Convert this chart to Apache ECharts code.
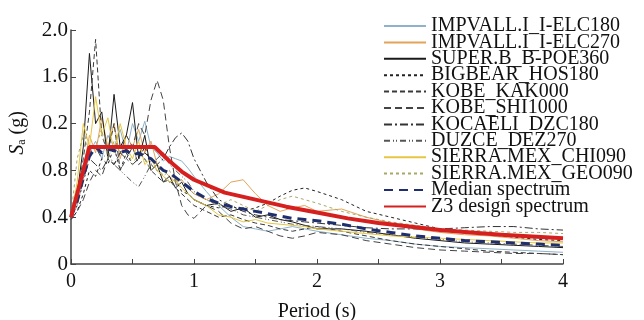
<!DOCTYPE html>
<html><head><meta charset="utf-8">
<script src="https://cdn.jsdelivr.net/npm/echarts@6/dist/echarts.min.js"></script>
<style>html,body{margin:0;padding:0;background:#fff}#c{width:644px;height:320px}</style>
</head><body><div id="c"></div>
<script>
const periods = [0,0.05,0.1,0.15,0.2,0.25,0.3,0.35,0.4,0.45,0.5,0.55,0.6,0.65,0.7,0.75,0.8,0.85,0.9,0.95,1.0,1.1,1.2,1.3,1.4,1.5,1.6,1.7,1.8,1.9,2.0,2.2,2.4,2.6,2.8,3.0,3.2,3.4,3.6,3.8,4.0];
const elc180 = [0.38,0.5,0.72,0.95,1.05,0.9,1.1,1.0,1.15,0.95,1.2,1.05,1.22,1.0,0.95,0.88,0.92,0.9,0.88,0.82,0.75,0.62,0.5,0.4,0.32,0.3,0.28,0.3,0.32,0.3,0.28,0.25,0.22,0.2,0.17,0.15,0.14,0.13,0.12,0.11,0.1];
const elc270 = [0.4,0.55,0.8,1.1,0.95,1.25,1.0,1.2,0.9,1.1,1.0,1.15,0.95,1.05,0.85,0.8,0.75,0.7,0.72,0.65,0.6,0.55,0.6,0.7,0.72,0.6,0.5,0.45,0.48,0.5,0.45,0.47,0.4,0.35,0.3,0.27,0.25,0.24,0.22,0.2,0.19];
const poe360 = [0.4,0.6,1.0,1.8,1.2,1.3,0.9,1.45,1.0,1.1,1.38,0.9,1.1,0.8,0.85,0.7,0.75,0.65,0.7,0.6,0.55,0.5,0.52,0.45,0.48,0.4,0.42,0.38,0.36,0.33,0.3,0.3,0.28,0.25,0.22,0.2,0.18,0.17,0.16,0.15,0.14];
const hos180 = [0.38,0.45,0.6,0.8,0.75,0.9,0.85,1.0,0.8,0.95,0.85,0.9,1.0,0.85,0.8,0.75,0.7,0.72,0.62,0.6,0.55,0.5,0.48,0.5,0.45,0.48,0.52,0.58,0.63,0.65,0.62,0.55,0.45,0.4,0.35,0.3,0.27,0.25,0.23,0.21,0.2];
const kak000 = [0.4,0.6,0.9,1.3,1.92,1.1,0.95,1.2,0.8,0.9,1.0,0.85,0.9,0.8,0.75,0.7,0.72,0.65,0.6,0.55,0.5,0.45,0.4,0.42,0.38,0.35,0.33,0.3,0.28,0.3,0.32,0.28,0.24,0.2,0.17,0.15,0.13,0.11,0.1,0.09,0.08];
const shi1000 = [0.38,0.45,0.55,0.7,0.8,0.75,0.9,0.85,0.95,1.1,1.0,1.2,1.1,1.4,1.57,1.4,1.0,0.7,0.5,0.42,0.39,0.5,0.45,0.35,0.3,0.32,0.28,0.24,0.22,0.24,0.27,0.25,0.2,0.17,0.14,0.12,0.11,0.1,0.09,0.09,0.08];
const dzc180 = [0.4,0.5,0.7,0.9,0.85,0.8,0.9,0.85,0.95,0.9,0.85,0.9,0.95,0.9,0.85,0.9,1.0,1.08,1.12,1.05,0.9,0.7,0.55,0.5,0.45,0.42,0.4,0.38,0.37,0.36,0.35,0.33,0.31,0.3,0.3,0.3,0.31,0.32,0.32,0.3,0.29];
const dez270 = [0.4,0.55,0.75,0.95,1.0,0.9,0.95,0.85,0.8,0.75,0.7,0.66,0.75,0.85,0.9,0.95,0.85,0.8,0.75,0.7,0.62,0.55,0.5,0.47,0.42,0.4,0.38,0.36,0.34,0.33,0.32,0.3,0.27,0.25,0.23,0.21,0.19,0.18,0.17,0.16,0.15];
const chi090 = [0.4,0.7,1.2,1.0,1.43,1.1,1.25,0.95,1.2,1.0,0.9,1.05,0.85,0.9,0.8,0.75,0.7,0.72,0.65,0.6,0.55,0.5,0.42,0.4,0.36,0.38,0.35,0.34,0.33,0.32,0.3,0.28,0.26,0.24,0.23,0.22,0.21,0.2,0.19,0.18,0.18];
const geo090 = [0.4,0.9,1.1,0.95,1.0,1.15,0.9,1.05,0.95,1.0,0.85,0.95,0.9,0.8,0.85,0.75,0.8,0.7,0.72,0.65,0.6,0.55,0.5,0.55,0.5,0.45,0.5,0.55,0.58,0.55,0.52,0.45,0.4,0.36,0.33,0.3,0.29,0.28,0.27,0.27,0.26];
const median = [0.4,0.55,0.75,0.92,1.0,0.95,0.98,0.97,0.95,0.97,0.93,0.95,0.92,0.9,0.85,0.8,0.78,0.74,0.7,0.66,0.62,0.56,0.52,0.49,0.47,0.45,0.43,0.41,0.39,0.38,0.37,0.34,0.3,0.27,0.24,0.22,0.2,0.19,0.18,0.17,0.16];
const designT = [0,0.15,0.68,0.8,0.9,1.0,1.25,1.5,1.75,2.0,2.25,2.5,2.75,3.0,3.25,3.5,3.75,4.0];
const designSa = [0.4,1.0,1.0,0.88,0.79,0.72,0.61,0.55,0.49,0.44,0.39,0.35,0.32,0.29,0.27,0.25,0.235,0.22];
const yTickLabels = ['0','0.4','0.8','0.2','1.6','2.0'];
const names = ['IMPVALL.I_I-ELC180','IMPVALL.I_I-ELC270','SUPER.B_B-POE360','BIGBEAR_HOS180','KOBE_KAK000','KOBE_SHI1000','KOCAELI_DZC180','DUZCE_DEZ270','SIERRA.MEX_CHI090','SIERRA.MEX_GEO090','Median spectrum','Z3 design spectrum'];

const font = 'Liberation Serif, Times New Roman, serif';
const pair = (xs, ys) => xs.map((x, i) => [x, ys[i]]);
function rec(name, ys, color, type, width) {
  return { name, type: 'line', data: pair(periods, ys), symbol: 'none', silent: true,
    lineStyle: { color, width: width || 1, type: type || 'solid' }, itemStyle: { color } };
}
const series = [
  rec(names[0], elc180, '#8eb2c9'),
  rec(names[1], elc270, '#e2a45a'),
  rec(names[2], poe360, '#1a1a1a'),
  rec(names[3], hos180, '#222', [3,3]),
  rec(names[4], kak000, '#3a3a3a', [5,3]),
  rec(names[5], shi1000, '#444', [7,4]),
  rec(names[6], dzc180, '#333', [8,3,2,3]),
  rec(names[7], dez270, '#555', [6,3,1,2,1,3]),
  rec(names[8], chi090, '#e6c640'),
  rec(names[9], geo090, '#a8a868', [3,3]),
  rec(names[10], median, '#1f2f6e', [9,6], 3),
  { name: names[11], type: 'line', data: pair(designT, designSa), symbol: 'none', silent: true,
    lineStyle: { color: '#d61f1f', width: 4 }, itemStyle: { color: '#d61f1f' } }
];

const chart = echarts.init(document.getElementById('c'), null, { renderer: 'canvas' });
chart.setOption({
  animation: false,
  backgroundColor: '#fff',
  grid: { left: 71, right: 81, top: 30, bottom: 56, containLabel: false, outerBoundsMode: 'none' },
  legend: {
    orient: 'vertical', left: 378, top: 11, itemWidth: 42, itemHeight: 12, itemGap: -3.6,
    data: names, selectedMode: false,
    itemStyle: { opacity: 0 },
    textStyle: { fontFamily: font, fontSize: 20, color: '#111' }
  },
  xAxis: {
    type: 'value', min: 0, max: 4, interval: 0.5,
    name: 'Period (s)', nameLocation: 'middle', nameGap: 38,
    nameTextStyle: { fontFamily: font, fontSize: 20, color: '#111' },
    axisLine: { lineStyle: { color: '#444', width: 1.5 } },
    axisTick: { inside: true, length: 5, lineStyle: { color: '#444' } },
    axisLabel: { fontFamily: font, fontSize: 20, color: '#111', margin: 8,
      formatter: v => (Math.abs(v - Math.round(v)) < 1e-9 ? String(Math.round(v)) : '') },
    splitLine: { show: false }
  },
  yAxis: {
    type: 'value', min: 0, max: 2.0, interval: 0.4,
    axisLine: { show: true, lineStyle: { color: '#444', width: 1.5 } },
    axisTick: { show: true, inside: true, length: 5, lineStyle: { color: '#444' } },
    axisLabel: { fontFamily: font, fontSize: 21, color: '#111', margin: 3,
      formatter: v => yTickLabels[Math.round(v / 0.4)] },
    splitLine: { show: false }
  },
  graphic: [{
    type: 'text', x: 18, y: 133, rotation: Math.PI / 2,
    style: {
      text: '{i|S}{s|a} (g)', align: 'center', verticalAlign: 'middle',
      fontFamily: font, fontSize: 20, fill: '#111',
      rich: { i: { fontFamily: font, fontSize: 20, fontStyle: 'italic' }, s: { fontFamily: font, fontSize: 12, padding: [8,0,0,0] } }
    }
  }],
  series
});
</script></body></html>
